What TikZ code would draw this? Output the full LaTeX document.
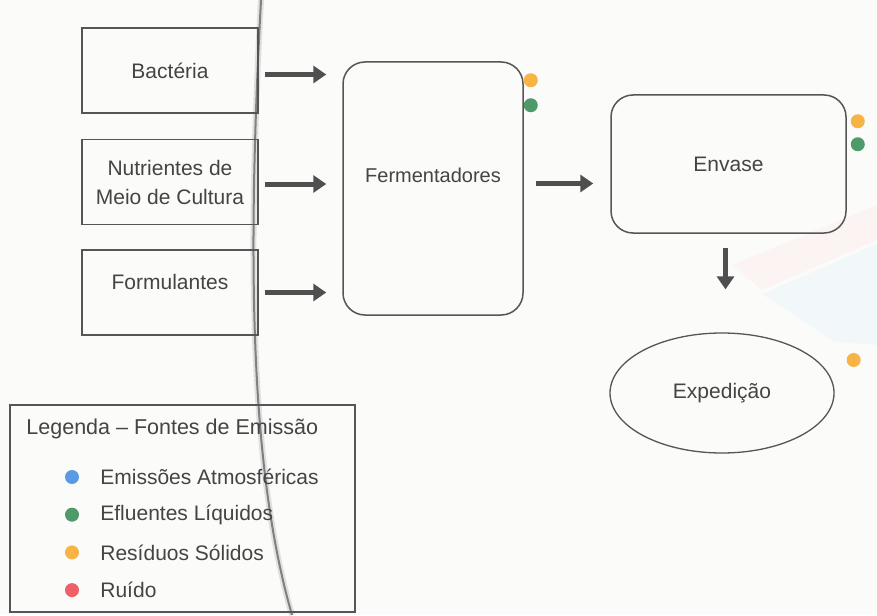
\documentclass[tikz,border=0pt]{standalone}
\usepackage{fontspec}
\setmainfont{Liberation Sans}
\usetikzlibrary{positioning,calc,shapes.geometric,arrows.meta}

\definecolor{texto}{HTML}{444444}
\definecolor{linha}{HTML}{555555}
\definecolor{seta}{HTML}{4F4F4F}
\definecolor{fundo}{HTML}{FBFBFA}
\definecolor{atmos}{HTML}{5B9BE6}
\definecolor{liquido}{HTML}{4E9A68}
\definecolor{solido}{HTML}{F6B444}
\definecolor{ruido}{HTML}{EF6068}

\tikzset{
  entrada/.style={draw=linha, line width=1.5pt, minimum width=176pt, minimum height=85pt, align=center},
  processo/.style={draw=linha, line width=1.5pt, rounded corners=22pt, align=center},
  saida/.style={draw=linha, line width=1.3pt, ellipse, inner sep=0pt, minimum width=224pt, minimum height=120pt},
  fluxo/.style={line width=5pt, draw=seta, -{Triangle[length=13pt,width=17pt]}},
  fonte/.style={circle, fill=#1, minimum size=14pt, inner sep=0pt},
}

\begin{document}
\begin{tikzpicture}[x=1pt,y=-1pt, font=\fontsize{21}{29}\selectfont, text=texto]
  % fundo da pagina
  \fill[fundo] (0,0) rectangle (877,615);
  \useasboundingbox (0,0) rectangle (877,615);
  \fill[red!3!fundo] (732,265) -- (877,205) -- (877,240) -- (762,290) -- cycle;
  \fill[cyan!4!fundo] (762,294) -- (877,244) -- (877,345) -- (835,342) -- cycle;
  \draw[black!12, line width=6pt] (261,0) .. controls (247,260) and (250,470) .. (292,615);
  \draw[black!50, line width=2pt] (261,0) .. controls (247,260) and (250,470) .. (292,615);

  % entradas
  \node[entrada] (bact) at (170,70.5) {\raisebox{-3pt}{Bactéria}};
  \node[entrada, below=25pt of bact] (nutri) {Nutrientes de\\Meio de Cultura};
  \node[entrada, below=24pt of nutri] (formul) {\raisebox{21pt}{Formulantes}};

  % processos
  \node[processo, minimum width=180pt, minimum height=253pt, font=\fontsize{20}{24}\selectfont] (ferm) at (433,188.5) {\raisebox{27pt}{Fermentadores}};
  \node[processo, minimum width=235pt, minimum height=138pt] (envase) at (728.5,164) {Envase};
  \node[saida] (exped) at (722,393) {Expedição};

  % setas
  \draw[fluxo, shorten <=6pt, shorten >=16pt] ([yshift=-4pt]bact.east) -- ([yshift=-4pt]bact.east -| ferm.west);
  \draw[fluxo, shorten <=6pt, shorten >=16pt] ([yshift=-2pt]nutri.east) -- ([yshift=-2pt]nutri.east -| ferm.west);
  \draw[fluxo, shorten <=6pt, shorten >=16pt] (formul.east) -- (formul.east -| ferm.west);
  \draw[fluxo, shorten <=12pt, shorten >=17pt] ([yshift=5pt]ferm.east) -- ([yshift=5pt]ferm.east -| envase.west);
  \draw[fluxo, shorten <=14pt, shorten >=43pt] ([xshift=-3pt]envase.south) -- ([xshift=-3pt]envase.south |- exped.north);

  % fontes de emissao
  \node[fonte=solido] (fermsol) at ($(ferm.north east)+(7,19)$) {};
  \node[fonte=liquido] (fermliq) at ($(ferm.north east)+(7,44)$) {};
  \node[fonte=solido] (envsol) at ($(envase.north east)+(11,27)$) {};
  \node[fonte=liquido] (envliq) at ($(envase.north east)+(11,50)$) {};
  \node[fonte=solido] (expsol) at ($(exped.east)+(19,-33)$) {};

  % legenda
  \node[draw=linha, line width=1.5pt, minimum width=345pt, minimum height=207pt] (legenda) at (182.5,508.5) {};
  \node[anchor=west, inner xsep=0pt, font=\fontsize{21.5}{24}\selectfont] (legtitulo) at ($(legenda.north west)+(17,25)$) {Legenda -- Fontes de Emissão};
  \foreach \cor/\txt [count=\i] in {atmos/Emissões Atmosféricas, liquido/Efluentes Líquidos, solido/Resíduos Sólidos, ruido/Ruído} {
    \node[fonte=\cor] (ponto\i) at (72,{439.3+37.7*\i}) {};
    \node[right=21pt of ponto\i, inner xsep=0pt] (rotulo\i) {\txt};
  }
\end{tikzpicture}
\end{document}
